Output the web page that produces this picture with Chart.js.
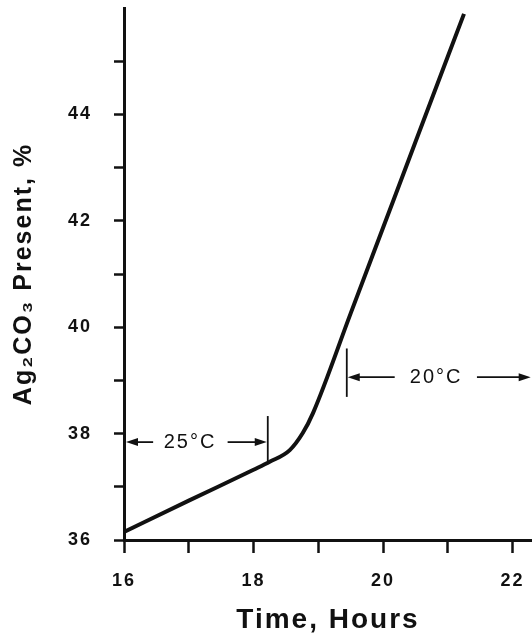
<!DOCTYPE html>
<html>
<head>
<meta charset="utf-8">
<script src="https://cdn.jsdelivr.net/npm/chart.js@4.4.1/dist/chart.umd.min.js"></script>
<style>
  html, body { margin: 0; padding: 0; background: #fff; }
  #wrap { width: 532px; height: 639px; }
</style>
</head>
<body>
<div id="wrap"><canvas id="myChart"></canvas></div>
<script>
// values
var hours = [16, 17, 18, 18.25, 18.56, 18.76, 18.92, 19.5, 20, 20.5, 21.25];
var ag2co3 = [36.15, 36.74, 37.32, 37.47, 37.69, 38.01, 38.39, 40.26, 41.87, 43.48, 45.89];
var xTicks = [16, 17, 18, 19, 20, 21, 22];
var yTicks = [36, 37, 38, 39, 40, 41, 42, 43, 44, 45];
var xTickLabels = [16, 18, 20, 22];
var yTickLabels = [36, 38, 40, 42, 44];
var tempLabels = ['25°C', '20°C'];

var ink = '#111';
var fontFam = '"Liberation Sans", Arial, sans-serif';

function arrow(ctx, x1, y, x2) {
  var dir = x2 > x1 ? 1 : -1;
  ctx.beginPath();
  ctx.moveTo(x1, y);
  ctx.lineTo(x2 - dir * 8, y);
  ctx.stroke();
  ctx.beginPath();
  ctx.moveTo(x2, y);
  ctx.lineTo(x2 - dir * 12, y - 4);
  ctx.lineTo(x2 - dir * 12, y + 4);
  ctx.closePath();
  ctx.fill();
}

var spacing = {
  id: 'spacing',
  beforeDraw: function (chart) { chart.ctx.letterSpacing = '2px'; }
};

var brackets = {
  id: 'brackets',
  afterDatasetsDraw: function (chart) {
    var ctx = chart.ctx, x = chart.scales.x, y = chart.scales.y;
    ctx.save();
    ctx.strokeStyle = ink;
    ctx.fillStyle = ink;
    ctx.lineWidth = 1.8;
    ctx.font = '20px ' + fontFam;
    ctx.letterSpacing = '2px';
    ctx.textAlign = 'center';
    ctx.textBaseline = 'middle';

    // 25 C span
    var ya = y.getPixelForValue(37.84);
    arrow(ctx, x.getPixelForValue(16.45), ya, x.getPixelForValue(16) + 2);
    ctx.fillText(tempLabels[0], x.getPixelForValue(17.02), ya);
    arrow(ctx, x.getPixelForValue(17.6), ya, x.getPixelForValue(18.22) - 1);
    ctx.beginPath();
    ctx.moveTo(x.getPixelForValue(18.22), y.getPixelForValue(38.33));
    ctx.lineTo(x.getPixelForValue(18.22), y.getPixelForValue(37.45));
    ctx.stroke();

    // 20 C span
    var yb = y.getPixelForValue(39.06);
    ctx.beginPath();
    ctx.moveTo(x.getPixelForValue(19.44), y.getPixelForValue(39.6));
    ctx.lineTo(x.getPixelForValue(19.44), y.getPixelForValue(38.69));
    ctx.stroke();
    arrow(ctx, x.getPixelForValue(20.18), yb, x.getPixelForValue(19.44) + 1);
    ctx.fillText(tempLabels[1], x.getPixelForValue(20.82), yb);
    arrow(ctx, x.getPixelForValue(21.45), yb, x.getPixelForValue(22.28));
    ctx.restore();
  }
};

var ctx = document.getElementById('myChart');

var myChart = new Chart(ctx, {
  type: 'line',
  data: {
    datasets: [{
      data: hours.map(function (h, i) { return { x: h, y: ag2co3[i] }; }),
      borderColor: ink,
      borderWidth: 4,
      pointRadius: 0,
      cubicInterpolationMode: 'monotone',
      fill: false
    }]
  },
  plugins: [spacing, brackets],
  options: {
    responsive: true,
    maintainAspectRatio: false,
    animation: false,
    layout: { padding: { top: 8, right: 0, left: 0, bottom: 0 } },
    plugins: {
      legend: { display: false },
      tooltip: { enabled: false }
    },
    scales: {
      x: {
        type: 'linear',
        min: 16,
        max: 22.3,
        afterFit: function (s) {
          s.height = 99;
          s.paddingLeft = 0;
          s.paddingRight = 0;
        },
        afterBuildTicks: function (s) {
          s.ticks = xTicks.map(function (v) { return { value: v }; });
        },
        border: { color: ink, width: 3 },
        grid: {
          drawOnChartArea: false,
          drawTicks: true,
          tickLength: 13,
          tickColor: ink,
          tickWidth: 2.5
        },
        ticks: {
          autoSkip: false,
          maxRotation: 0,
          padding: 17,
          color: ink,
          font: { family: fontFam, size: 18, weight: 'bold' },
          callback: function (v) { return xTickLabels.indexOf(v) >= 0 ? String(v) : ''; }
        },
        title: {
          display: true,
          text: 'Time, Hours',
          color: ink,
          padding: { top: 0, bottom: 2 },
          font: { family: fontFam, size: 28, weight: 'bold' }
        }
      },
      y: {
        min: 36,
        max: 46,
        afterFit: function (s) {
          s.width = 124;
          s.paddingTop = 0;
          s.paddingBottom = 0;
        },
        afterBuildTicks: function (s) {
          s.ticks = yTicks.map(function (v) { return { value: v }; });
        },
        border: { color: ink, width: 3 },
        grid: {
          drawOnChartArea: false,
          drawTicks: true,
          tickLength: 10,
          tickColor: ink,
          tickWidth: 2.5
        },
        ticks: {
          autoSkip: false,
          padding: 22,
          color: ink,
          font: { family: fontFam, size: 18, weight: 'bold' },
          callback: function (v) { return yTickLabels.indexOf(v) >= 0 ? String(v) : ''; }
        },
        title: {
          display: true,
          text: 'Ag₂CO₃ Present, %',
          color: ink,
          padding: { top: 9, bottom: 0 },
          font: { family: fontFam, size: 25, weight: 'bold' }
        }
      }
    }
  }
});
</script>
</body>
</html>
